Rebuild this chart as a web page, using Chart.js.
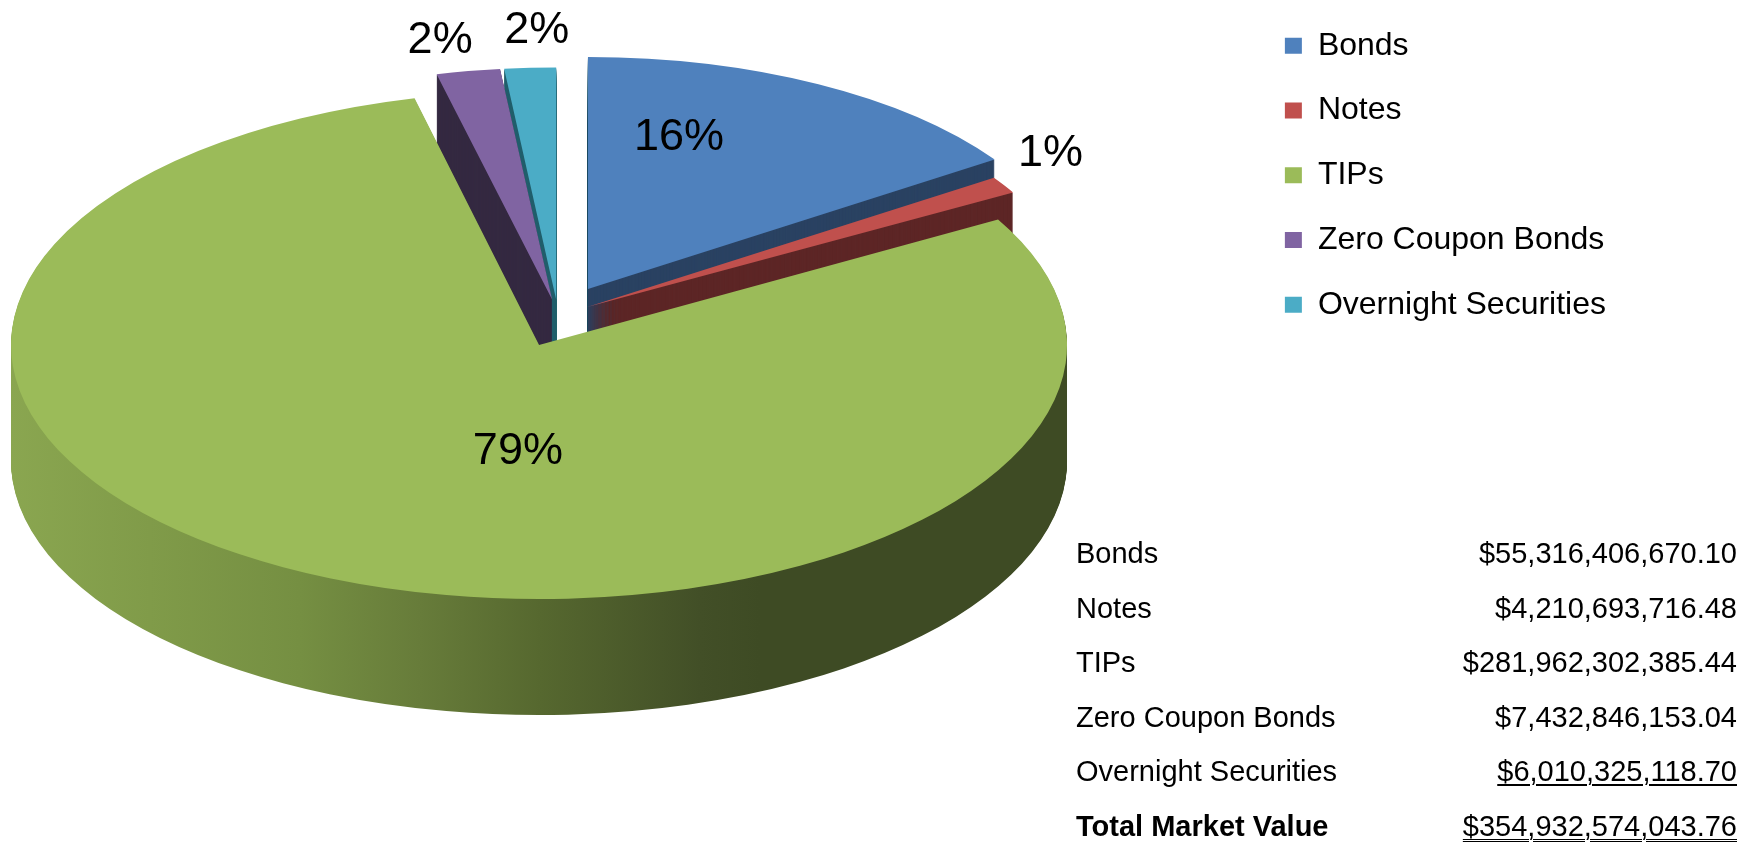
<!DOCTYPE html>
<html lang="en">
<head>
    <meta charset="UTF-8">
    <title>Market Value by Security Type</title>
    <script src="https://cdn.jsdelivr.net/npm/chart.js"></script>
    <style>
        html, body {
            margin: 0;
            padding: 0;
            background-color: #fff;
        }
        body {
            width: 1745px;
            height: 842px;
            position: relative;
            overflow: hidden;
            font-family: "Liberation Sans", Arial, sans-serif;
        }
        #contenedor {
            position: absolute;
            left: 0;
            top: 0;
            width: 1745px;
            height: 842px;
        }
        #tabla {
            position: absolute;
            left: 1076px;
            top: 526px;
            width: 661px;
            font-size: 29px;
            color: #000;
        }
        .fila {
            display: flex;
            justify-content: space-between;
            height: 54.5px;
            line-height: 54.5px;
            white-space: nowrap;
        }
        .subrayado {
            text-decoration: underline;
            text-decoration-thickness: 2px;
            text-underline-offset: 3px;
        }
        .doble {
            text-decoration: underline double;
            text-decoration-thickness: 1px;
            text-underline-offset: 3px;
        }
        .total {
            font-weight: bold;
        }
    </style>
</head>
<body>
<div id="contenedor">
    <canvas id="graficaPie"></canvas>
</div>
<div id="tabla"></div>

<script>
    // Datos de la gráfica
    const categorias = ['Bonds', 'Notes', 'TIPs', 'Zero Coupon Bonds', 'Overnight Securities'];
    const valores = [55316406670.10, 4210693716.48, 281962302385.44, 7432846153.04, 6010325118.70];
    const etiquetaTotal = 'Total Market Value';

    // Estilos
    const coloresCara = ['#4f81bd', '#c0504d', '#9bbb59', '#8064a2', '#4bacc6'];
    const coloresLado = ['#2a4262', '#5d2626', null, '#342941', '#225f6c'];
    // degradado del lado verde (posición x en pantalla, color)
    const degradadoTips = [[11, '#8aa650'], [150, '#809b49'], [300, '#758f42'], [420, '#677c3a'],
        [540, '#56682f'], [700, '#424f27'], [760, '#3e4b24'], [1066, '#3e4b24']];
    const separacion = [0.13, 0.07, 0.07, 0.07, 0.07];
    const posEtiquetas = [{r: 0.68, da: -12.2}, {r: 1.155, da: -3.3}, {r: 0.42, da: -17.9}, {r: 1.14, da: -1.7}, {r: 1.16, da: 1.1}];
    // falsa perspectiva: las porciones de atrás se dibujan un poco más pequeñas
    const elipseCerca = {cx: 553.7, cy: 328.7, rx: 528, ry: 254, fondo: 116};
    const elipseLejos = {cx: 558, cy: 315.6, rx: 490, ry: 232, fondo: 106};
    const fuente = '"Liberation Sans", Arial, sans-serif';

    const total = valores.reduce((a, b) => a + b, 0);

    function formatoMoneda(v) {
        const partes = v.toFixed(2).split('.');
        return '$' + partes[0].replace(/\B(?=(\d{3})+(?!\d))/g, ',') + '.' + partes[1];
    }

    function mitad(arco) {
        return (arco.startAngle + arco.endAngle) / 2;
    }

    function elipseDe(arco) {
        // mitad de atrás (arriba) = lejos
        return Math.sin(mitad(arco)) < 0 ? elipseLejos : elipseCerca;
    }

    // Pie 3D: se aplasta el pie de Chart.js y se dibuja el grosor por capas
    const pie3d = {
        id: 'pie3d',
        beforeDatasetsDraw(chart) {
            const ctx = chart.ctx;
            const arcos = chart.getDatasetMeta(0).data;
            if (!arcos.length) return false;
            const ax = arcos[0].x, ay = arcos[0].y, R = arcos[0].outerRadius;

            function colocar(arco, i, dy) {
                const el = elipseDe(arco);
                const mid = mitad(arco);
                const e = separacion[i] * R;
                ctx.translate(0, dy);
                ctx.translate(el.cx, el.cy);
                ctx.scale(el.rx / R, el.ry / R);
                ctx.translate(-ax + Math.cos(mid) * e, -ay + Math.sin(mid) * e);
            }

            // relleno de los lados
            const rellenos = arcos.map((arco, i) => {
                if (coloresLado[i]) return coloresLado[i];
                const el = elipseDe(arco);
                const sx = el.rx / R;
                const e = separacion[i] * R;
                const ux = X => ax - Math.cos(mitad(arco)) * e + (X - el.cx) / sx;
                const x0 = degradadoTips[0][0], x1 = degradadoTips[degradadoTips.length - 1][0];
                const g = ctx.createLinearGradient(ux(x0), 0, ux(x1), 0);
                degradadoTips.forEach(([x, c]) => g.addColorStop((x - x0) / (x1 - x0), c));
                return g;
            });

            const fondoMax = Math.max(elipseCerca.fondo, elipseLejos.fondo);
            for (let d = fondoMax; d >= 1; d--) {
                arcos.forEach((arco, i) => {
                    if (d > elipseDe(arco).fondo) return;
                    ctx.save();
                    colocar(arco, i, d);
                    const orig = arco.options;
                    arco.options = Object.assign({}, orig, {backgroundColor: rellenos[i], borderWidth: 0});
                    arco.draw(ctx);
                    arco.options = orig;
                    ctx.restore();
                });
            }

            // caras superiores
            arcos.forEach((arco, i) => {
                ctx.save();
                colocar(arco, i, 0);
                arco.draw(ctx);
                ctx.restore();
            });

            // porcentajes
            ctx.save();
            ctx.font = '45px ' + fuente;
            ctx.fillStyle = '#000';
            ctx.textAlign = 'center';
            ctx.textBaseline = 'middle';
            arcos.forEach((arco, i) => {
                const el = elipseDe(arco);
                const mid = mitad(arco);
                const p = posEtiquetas[i];
                const a = mid + p.da * Math.PI / 180;
                const x = el.cx + el.rx * (Math.cos(mid) * separacion[i] + Math.cos(a) * p.r);
                const y = el.cy + el.ry * (Math.sin(mid) * separacion[i] + Math.sin(a) * p.r);
                ctx.fillText(Math.round(valores[i] / total * 100) + '%', x, y);
            });
            ctx.restore();
            return false;
        }
    };

    const ctx = document.getElementById('graficaPie').getContext('2d');
    const grafica = new Chart(ctx, {
        type: 'pie',
        data: {
            labels: categorias,
            datasets: [{
                data: valores,
                backgroundColor: coloresCara,
                borderWidth: 0
            }]
        },
        options: {
            responsive: true,
            maintainAspectRatio: false,
            animation: false,
            events: [],
            layout: {padding: {top: -3, right: 129}},
            plugins: {
                tooltip: {enabled: false},
                legend: {
                    position: 'right',
                    align: 'start',
                    labels: {
                        boxWidth: 17,
                        boxHeight: 16,
                        padding: 32.75,
                        color: '#000',
                        font: {family: fuente, size: 32}
                    }
                }
            }
        },
        plugins: [pie3d]
    });

    // Tabla de valores
    const tabla = document.getElementById('tabla');
    categorias.forEach((cat, i) => {
        const fila = document.createElement('div');
        fila.className = 'fila';
        const nombre = document.createElement('span');
        nombre.textContent = cat;
        const valor = document.createElement('span');
        valor.textContent = formatoMoneda(valores[i]);
        if (i === categorias.length - 1) valor.className = 'subrayado';
        fila.appendChild(nombre);
        fila.appendChild(valor);
        tabla.appendChild(fila);
    });
    const filaTotal = document.createElement('div');
    filaTotal.className = 'fila';
    const nombreTotal = document.createElement('span');
    nombreTotal.className = 'total';
    nombreTotal.textContent = etiquetaTotal;
    const valorTotal = document.createElement('span');
    valorTotal.className = 'doble';
    valorTotal.textContent = formatoMoneda(total);
    filaTotal.appendChild(nombreTotal);
    filaTotal.appendChild(valorTotal);
    tabla.appendChild(filaTotal);
</script>
</body>
</html>
